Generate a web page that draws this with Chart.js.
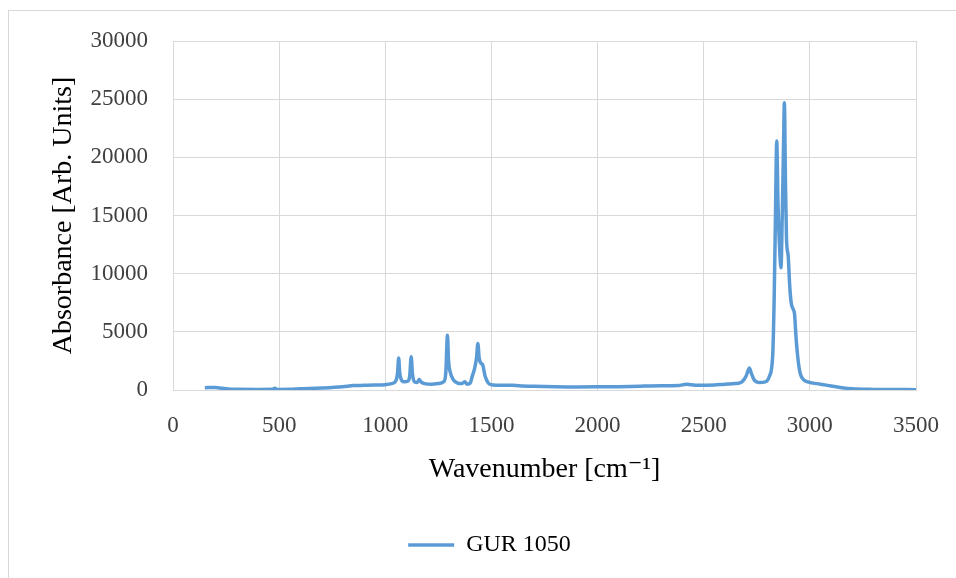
<!DOCTYPE html>
<html lang="en">
<head>
  <meta charset="UTF-8">
  <title>GUR 1050</title>
  <script src="https://cdn.jsdelivr.net/npm/chart.js"></script>
  <style>
    body {
      margin: 0;
      overflow: hidden;
      background: #ffffff;
    }
    #frame {
      position: absolute;
      left: 8px;
      top: 10px;
      width: 970px;
      height: 600px;
      border: 1px solid #d9d9d9;
    }
    #wrap {
      position: absolute;
      left: 0;
      top: 0;
      width: 956px;
      height: 578px;
    }
  </style>
</head>
<body>
  <div id="frame"></div>
  <div id="wrap">
    <canvas id="spectrum"></canvas>
  </div>

  <script>
    // wavenumber (cm-1) and absorbance
    const wavenumber = [
      150, 200, 230, 260, 300, 400, 470, 480, 490, 550, 600, 700, 800, 850, 900, 950,
      1000, 1030, 1050, 1058, 1063, 1068, 1078, 1090, 1105, 1115, 1122, 1128, 1138, 1150,
      1160, 1168, 1185, 1220, 1250, 1275, 1285, 1293, 1298, 1305, 1320, 1340, 1360, 1375,
      1385, 1400, 1410, 1420, 1430, 1436, 1442, 1450, 1458, 1470, 1485, 1500, 1550, 1600,
      1650, 1700, 1800, 1900, 2000, 2100, 2200, 2300, 2380, 2420, 2440, 2480, 2550, 2600,
      2650, 2680, 2700, 2715, 2725, 2740, 2760, 2790, 2810, 2825, 2832, 2838, 2844, 2850,
      2858, 2864, 2870, 2876, 2880, 2885, 2890, 2898, 2905, 2912, 2920, 2928, 2935, 2945,
      2955, 2970, 2990, 3050, 3100, 3150, 3200, 3300, 3400, 3500
    ];
    const absorbance = [
      200, 220, 150, 80, 60, 50, 60, 150, 50, 60, 100, 170, 280, 380, 400, 420,
      460, 550, 800, 1500, 2750, 1500, 800, 700, 750, 1200, 2850, 1400, 700, 650,
      900, 700, 550, 500, 550, 700, 1500, 4700, 2500, 1600, 900, 600, 550, 700,
      500, 600, 1200, 1800, 2800, 4000, 2800, 2300, 2200, 1200, 600, 450, 400, 400,
      350, 320, 280, 260, 270, 290, 330, 360, 380, 500, 450, 400, 430, 500,
      550, 700, 1200, 1900, 1400, 800, 650, 700, 1200, 3000, 8000, 15000, 21400, 16000,
      12000, 10500, 15000, 21000, 24700, 18000, 13000, 11500, 9000, 7500, 7000, 6500, 4500, 2500,
      1400, 900, 700, 500, 350, 200, 100, 50, 40, 30
    ];
    const seriesName = 'GUR 1050';
    const xTitle = 'Wavenumber [cm\u207B\u00B9]';
    const yTitle = 'Absorbance [Arb. Units]';

    const points = wavenumber.map((w, i) => ({ x: w, y: absorbance[i] }));
    const serif = "'Liberation Serif', 'DejaVu Serif', serif";
    const gridColor = '#d9d9d9';
    const plain = v => String(v); // no thousands separator

    const ctx = document.getElementById('spectrum').getContext('2d');
    new Chart(ctx, {
      type: 'line',
      data: {
        datasets: [{
          label: seriesName,
          data: points,
          borderColor: '#5b9bd5',
          backgroundColor: '#5b9bd5',
          borderWidth: 3.5,
          pointRadius: 0,
          cubicInterpolationMode: 'monotone'
        }]
      },
      options: {
        responsive: true,
        maintainAspectRatio: false,
        animation: false,
        layout: { padding: { left: 63, top: 41, right: 40, bottom: 11 } },
        plugins: {
          legend: {
            position: 'bottom',
            labels: {
              usePointStyle: true,
              pointStyle: 'line',
              pointStyleWidth: 46,
              padding: 10,
              color: '#000',
              font: { family: serif, size: 24 }
            }
          },
          tooltip: { enabled: false }
        },
        scales: {
          x: {
            type: 'linear',
            min: 0,
            max: 3500,
            afterFit: s => { s.height = 133; s.paddingLeft = 0; s.paddingRight = 0; },
            ticks: { stepSize: 500, padding: 22, color: '#404040', callback: plain, font: { family: serif, size: 23 } },
            grid: { color: gridColor, drawTicks: false },
            border: { color: gridColor },
            title: {
              display: true,
              text: xTitle,
              color: '#000',
              font: { family: serif, size: 28 },
              padding: { top: 0, bottom: 37 }
            }
          },
          y: {
            min: 0,
            max: 30000,
            afterFit: s => { s.width = 110; },
            ticks: { stepSize: 5000, padding: 25, color: '#404040', callback: plain, font: { family: serif, size: 23 } },
            grid: { color: gridColor, drawTicks: false },
            border: { color: gridColor },
            title: {
              display: true,
              text: yTitle,
              color: '#000',
              font: { family: serif, size: 28 },
              padding: { top: -16, bottom: 0 }
            }
          }
        }
      }
    });
  </script>
</body>
</html>
